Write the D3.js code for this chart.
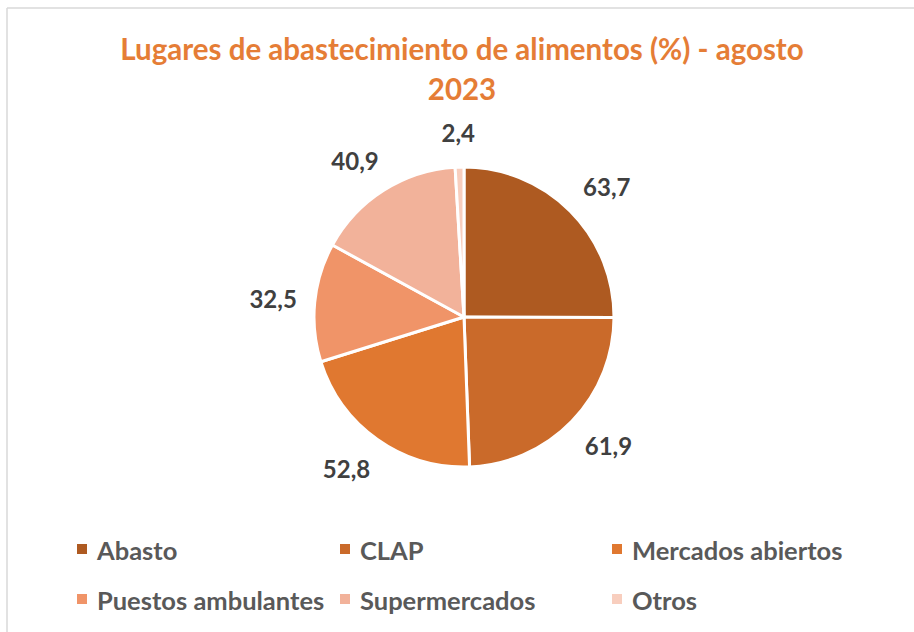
<!DOCTYPE html>
<html>
<head>
<meta charset="utf-8">
<script src="https://cdn.jsdelivr.net/npm/d3@7"></script>
<style>
  body { margin:0; background:#fff; }
  svg text { font-family: Lato, "Open Sans", sans-serif; font-weight:bold; }
</style>
</head>
<body>
<svg id="chart" width="914" height="632"></svg>
<script>
// data
var categories = ["Abasto","CLAP","Mercados abiertos","Puestos ambulantes","Supermercados","Otros"];
var values = [63.7, 61.9, 52.8, 32.5, 40.9, 2.4];
var valueLabels = ["63,7","61,9","52,8","32,5","40,9","2,4"];
var colors = ["#AE5A21","#CA6A2A","#E07830","#F09468","#F2B29A","#F8CEBE"];

var svg = d3.select("#chart");
var center = {x:464, y:317};
var radius = 150;

// frame lines (top and left only visible)
svg.append("line").attr("x1",7).attr("y1",8).attr("x2",914).attr("y2",8)
    .attr("stroke","#D9D9D9").attr("stroke-width",1.5);
svg.append("line").attr("x1",7).attr("y1",8).attr("x2",7).attr("y2",632)
    .attr("stroke","#D9D9D9").attr("stroke-width",1.5);

// title
var title = svg.append("text")
    .attr("text-anchor","middle")
    .attr("fill","#E57D36")
    .style("font-size","29.5px");
title.append("tspan").attr("x",462).attr("y",60).text("Lugares de abastecimiento de alimentos (%) - agosto");
title.append("tspan").attr("x",462).attr("y",100).text("2023");

var data = categories.map(function(c,i){
    return {name:c, value:values[i], label:valueLabels[i], color:colors[i]};
});

var pie = d3.pie().sort(null).value(function(d){ return d.value; });
var arc = d3.arc().innerRadius(0).outerRadius(radius);
var arcs = pie(data);

var g = svg.append("g")
    .attr("transform","translate("+center.x+","+center.y+")");

g.selectAll("path")
    .data(arcs)
    .enter()
    .append("path")
    .attr("d",arc)
    .attr("fill",function(d){ return d.data.color; })
    .attr("stroke","#fff")
    .attr("stroke-width",3)
    .attr("stroke-linejoin","round");

// labels outside the end of each slice
var labelRx = radius + 18, labelRy = radius + 35;
g.selectAll("text.value")
    .data(arcs)
    .enter()
    .append("text")
    .classed("value",true)
    .attr("text-anchor","middle")
    .attr("dominant-baseline","central")
    .attr("fill","#404040")
    .style("font-size","24px")
    .text(function(d){ return d.data.label; })
    .attr("transform",function(d){
        var a = (d.startAngle+d.endAngle)/2;
        var s = Math.sin(a);
        var bb = this.getBBox();
        var px = s*labelRx + Math.sign(s)*Math.min(1, Math.abs(s)*1.5)*bb.width/2;
        var py = -Math.cos(a)*labelRy;
        return "translate("+px+","+py+")";
    });

// legend
var legendX = [77,340,612];
var legendY = [549,599];
var legend = svg.append("g");
var items = legend.selectAll("g")
    .data(data)
    .enter()
    .append("g")
    .attr("transform",function(d,i){
        return "translate("+legendX[i%3]+","+legendY[Math.floor(i/3)]+")";
    });
items.append("rect")
    .attr("x",0).attr("y",-5)
    .attr("width",10).attr("height",10)
    .attr("fill",function(d){ return d.color; });
items.append("text")
    .attr("x",20)
    .attr("y",1)
    .attr("dominant-baseline","central")
    .attr("fill","#595959")
    .style("font-size","25.5px")
    .text(function(d){ return d.name; });
</script>
</body>
</html>
